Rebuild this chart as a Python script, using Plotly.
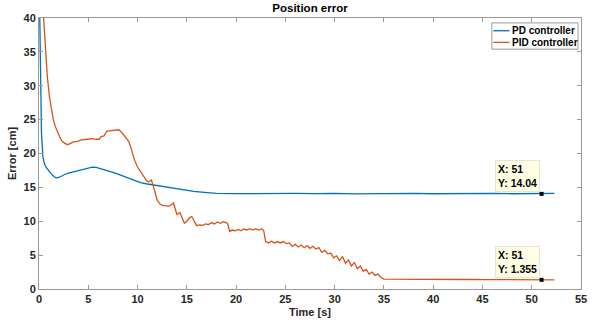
import plotly.graph_objects as go

# ---- data ----
pd_t = [0, 0.07, 0.14, 0.25, 0.4, 0.57, 0.75, 0.9, 1.1, 1.25, 1.5, 1.75, 2.08, 2.4, 2.6,
        3.0, 3.5, 3.9, 4.5, 5.0, 5.4, 5.8, 6.3, 7.0, 7.5, 7.95, 8.5, 9.0, 9.6, 10.3,
        11.0, 11.6, 12.3, 13.0, 13.65, 14.5, 15.2, 15.7, 16.5, 17.35, 18.0, 20.0, 22.0,
        24.0, 26.0, 28.0, 30.0, 32.0, 34.0, 36.0, 38.0, 40.0, 42.0, 44.0, 46.0, 48.0,
        50.0, 51.0, 52.3]
pd_y = [48, 40, 30, 23, 19.5, 18.4, 17.9, 17.6, 17.3, 17.0, 16.6, 16.4, 16.5, 16.8, 16.9,
        17.1, 17.3, 17.5, 17.7, 17.9, 18.0, 17.95, 17.7, 17.4, 17.2, 17.0, 16.7, 16.4, 16.1, 15.7,
        15.5, 15.35, 15.15, 15.0, 14.9, 14.7, 14.5, 14.4, 14.3, 14.15, 14.1, 14.08, 14.12,
        14.06, 14.1, 14.07, 14.12, 14.05, 14.1, 14.08, 14.12, 14.06, 14.1, 14.08, 14.11, 14.06,
        14.09, 14.04, 14.1]

pid_t = [0, 0.2, 0.47, 0.65, 0.84, 1.05, 1.25, 1.45, 1.65, 1.85, 2.08, 2.3, 2.6, 2.92,
         3.2, 3.5, 3.9, 4.3, 4.9, 5.4, 5.8, 6.1, 6.3, 6.6, 6.9, 7.3, 7.7, 8.1, 8.4, 8.7,
         9.1, 9.4, 9.7, 10.0, 10.3, 10.6, 10.9, 11.1, 11.4, 11.6, 11.8, 12.0, 12.3, 12.6,
         12.9, 13.1, 13.4, 13.65, 13.85, 14.0, 14.3, 14.5, 14.75, 15.0, 15.25, 15.5, 15.75,
         16.0, 16.3, 16.6, 16.9, 17.2, 17.5, 17.8, 18.1, 18.4, 18.7, 19.0, 19.15, 19.35,
         19.6, 19.9, 20.2, 20.5, 20.8, 21.1, 21.4, 21.7, 22.0, 22.3, 22.6, 22.8, 23.0, 23.3,
         23.6, 23.9, 24.2, 24.5, 24.8, 25.1, 25.4, 25.7, 26.0, 26.3, 26.6, 26.9, 27.2, 27.5,
         27.8, 28.1, 28.4, 28.7, 29.0, 29.3, 29.6, 29.9, 30.2, 30.5, 30.8, 31.1, 31.4, 31.7,
         32.0, 32.3, 32.6, 32.9, 33.2, 33.5, 33.8, 34.1, 34.4, 34.7, 35.0, 36.0, 38.0, 40.0,
         43.0, 46.0, 49.0, 51.0, 52.3]
pid_y = [58, 48, 40, 35, 31.4, 28.5, 26.6, 25.0, 24.0, 23.2, 22.5, 21.9, 21.5, 21.3,
         21.5, 21.7, 21.8, 22.0, 22.1, 22.2, 22.1, 22.1, 22.5, 22.6, 23.3, 23.4, 23.4, 23.5, 23.1, 22.6,
         21.8, 20.5, 19.0, 18.0, 17.3, 16.5, 16.0, 15.8, 16.1, 15.2, 13.9, 13.1, 12.5, 12.3,
         12.3, 12.2, 12.4, 12.7, 11.7, 11.0, 11.3, 10.5, 9.7, 10.0, 10.5, 10.7, 10.1,
         9.35, 9.45, 9.4, 9.6, 9.5, 9.8, 9.6, 9.9, 9.7, 9.95, 9.8, 9.6, 8.5,
         8.7, 8.6, 8.8, 8.6, 8.85, 8.7, 8.9, 8.7, 8.9, 8.7, 8.9, 8.6, 7.0, 6.8,
         7.05, 6.8, 7.0, 6.8, 7.0, 6.7, 6.8, 6.3, 6.6, 6.2, 6.5, 6.1, 6.4, 6.0,
         6.3, 5.9, 6.1, 5.4, 5.7, 5.2, 5.3, 4.6, 4.9, 4.2, 4.8, 3.8, 4.3, 3.4,
         3.9, 3.0, 3.4, 2.6, 2.9, 2.2, 2.5, 2.0, 2.2, 1.7, 1.45, 1.43, 1.42, 1.41,
         1.40, 1.38, 1.37, 1.355, 1.36]

tip_x = [51, 51]
tip_y = [14.04, 1.355]
tip_labels = ["X: 51<br>Y: 14.04", "X: 51<br>Y: 1.355"]

series_names = ["PD controller", "PID controller"]
series_colors = ["#0072BD", "#D95319"]

x_ticks = [0, 5, 10, 15, 20, 25, 30, 35, 40, 45, 50, 55]
y_ticks = [0, 5, 10, 15, 20, 25, 30, 35, 40]

FONT = "Liberation Sans"
TXT = "#262626"
AX = "#9a9a9a"

fig = go.Figure()
fig.add_trace(go.Scatter(x=pd_t, y=pd_y, mode="lines", name=series_names[0], showlegend=False,
                         line=dict(color=series_colors[0], width=1.3)))
fig.add_trace(go.Scatter(x=pid_t, y=pid_y, mode="lines", name=series_names[1], showlegend=False,
                         line=dict(color=series_colors[1], width=1.3)))
fig.add_trace(go.Scatter(x=tip_x, y=tip_y, mode="markers", showlegend=False,
                         marker=dict(symbol="square", size=4, color="black")))

for xv, yv, lab in zip(tip_x, tip_y, tip_labels):
    fig.add_annotation(x=xv, y=yv, text="<b>" + lab + "</b>", showarrow=False,
                       xanchor="right", yanchor="bottom", align="left",
                       bgcolor="#FFFFE6", bordercolor="#e6e6cc", borderwidth=1, borderpad=2,
                       font=dict(family=FONT, size=10.5, color="black"), yshift=2, xshift=-2)

# compact MATLAB-style legend box (paper coordinates of plot area)
fig.add_shape(type="rect", xref="paper", yref="paper", x0=0.8355, x1=0.9945, y0=0.885, y1=0.982,
              line=dict(color=AX, width=1), fillcolor="white", layer="above")
legend_y = [0.953, 0.910]
for name, col, ly in zip(series_names, series_colors, legend_y):
    fig.add_shape(type="line", xref="paper", yref="paper", x0=0.838, x1=0.868, y0=ly, y1=ly,
                  line=dict(color=col, width=1.3), layer="above")
    fig.add_annotation(xref="paper", yref="paper", x=0.869, y=ly, text="<b>" + name + "</b>",
                       showarrow=False, xanchor="left", yanchor="middle",
                       font=dict(family=FONT, size=10, color="black"))

fig.update_layout(
    width=599, height=329,
    margin=dict(l=39, r=13, t=17, b=34),
    paper_bgcolor="white", plot_bgcolor="white",
    title=dict(text="<b>Position error</b>", x=0.5, xref="paper", xanchor="center",
               y=0.975, yref="container", yanchor="middle",
               font=dict(family=FONT, size=11.5, color="black")),
    font=dict(family=FONT, size=11, color=TXT),
    showlegend=False,
)
fig.update_xaxes(range=[0, 55], tickvals=x_ticks, ticktext=["<b>%d</b>" % v for v in x_ticks],
                 showgrid=False, zeroline=False, showline=True, linecolor=AX, linewidth=1,
                 mirror="allticks", ticks="inside", ticklen=4, tickcolor=AX,
                 title=dict(text="<b>Time [s]</b>", standoff=4,
                            font=dict(family=FONT, size=11, color=TXT)))
fig.update_yaxes(range=[0, 40], tickvals=y_ticks, ticktext=["<b>%d</b>" % v for v in y_ticks],
                 showgrid=False, zeroline=False, showline=True, linecolor=AX, linewidth=1,
                 mirror="allticks", ticks="inside", ticklen=4, tickcolor=AX,
                 title=dict(text="<b>Error [cm]</b>", standoff=4,
                            font=dict(family=FONT, size=11, color=TXT)))

fig.write_html("out.html")
